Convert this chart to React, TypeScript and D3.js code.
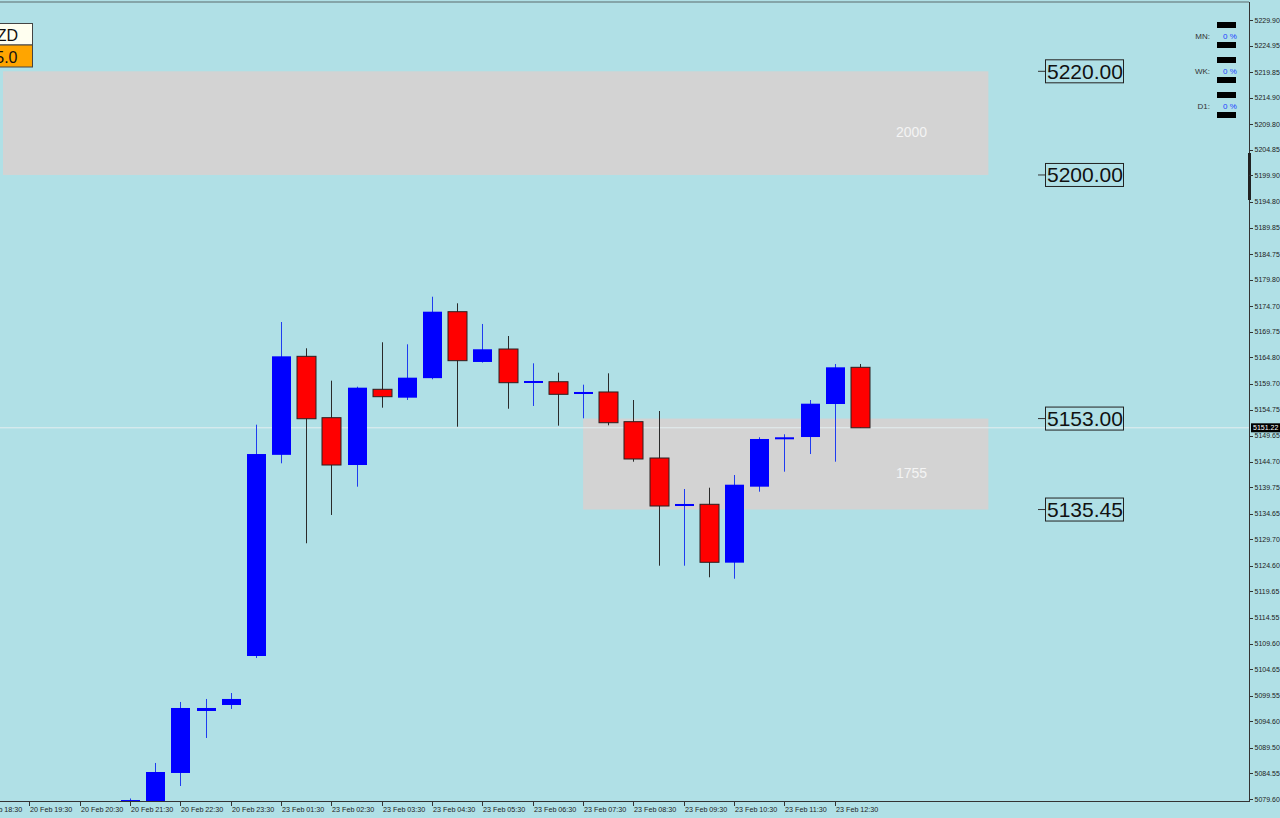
import React from "react";
import * as d3 from "d3";

// ---- Data ----
const opens = [5079.0, 5078.0, 5084.62, 5096.58, 5097.74, 5107.19, 5146.0, 5165.01, 5153.17, 5144.04, 5158.65, 5157.03, 5160.8, 5173.62, 5163.92, 5166.42, 5159.92, 5160.11, 5157.74, 5158.13, 5152.4, 5145.39, 5136.13, 5136.46, 5125.2, 5139.86, 5149.0, 5149.44, 5155.81, 5162.89];
const highs = [5079.7, 5086.55, 5098.32, 5098.9, 5100.05, 5151.82, 5171.63, 5166.56, 5160.31, 5159.15, 5167.72, 5167.33, 5176.51, 5175.24, 5171.25, 5168.93, 5163.66, 5161.85, 5159.54, 5161.73, 5156.58, 5154.46, 5139.41, 5139.66, 5142.11, 5149.39, 5149.97, 5156.58, 5163.53, 5163.53];
const lows = [5078.9, 5077.5, 5082.11, 5091.37, 5096.97, 5106.8, 5144.37, 5128.94, 5134.4, 5139.86, 5155.1, 5156.58, 5160.58, 5151.43, 5163.8, 5154.9, 5155.43, 5151.63, 5153.05, 5151.7, 5144.68, 5124.61, 5124.61, 5122.38, 5122.1, 5138.89, 5142.75, 5146.16, 5144.68, 5151.22];
const closes = [5079.4, 5084.81, 5097.16, 5097.16, 5098.9, 5146.16, 5165.01, 5152.97, 5144.04, 5158.96, 5157.22, 5160.89, 5173.62, 5164.17, 5166.37, 5159.92, 5160.25, 5157.68, 5158.13, 5152.2, 5145.2, 5136.13, 5136.52, 5125.27, 5140.24, 5149.06, 5149.39, 5155.87, 5162.89, 5151.22];

const priceTickLabels = ["5229.90", "5224.95", "5219.85", "5214.90", "5209.80", "5204.85", "5199.90", "5194.80", "5189.85", "5184.75", "5179.80", "5174.70", "5169.75", "5164.80", "5159.70", "5154.75", "5149.65", "5144.70", "5139.75", "5134.65", "5129.70", "5124.60", "5119.65", "5114.55", "5109.60", "5104.65", "5099.55", "5094.60", "5089.50", "5084.55", "5079.60"];

const timeTickIndex = [-6, -4, -2, 0, 2, 4, 6, 8, 10, 12, 14, 16, 18, 20, 22, 24, 26, 28];
const timeTickLabels = ["20 Feb 18:30", "20 Feb 19:30", "20 Feb 20:30", "20 Feb 21:30", "20 Feb 22:30", "20 Feb 23:30", "23 Feb 01:30", "23 Feb 02:30", "23 Feb 03:30", "23 Feb 04:30", "23 Feb 05:30", "23 Feb 06:30", "23 Feb 07:30", "23 Feb 08:30", "23 Feb 09:30", "23 Feb 10:30", "23 Feb 11:30", "23 Feb 12:30"];

const zoneTops = [5220.0, 5153.0];
const zoneBottoms = [5200.0, 5135.45];
const zoneStartIndex = [-5.05, 18];
const zoneEndIndex = [34.1, 34.1];
const zoneLabels = ["2000", "1755"];

const levelPrices = [5220.0, 5200.0, 5153.0, 5135.45];
const levelLabels = ["5220.00", "5200.00", "5153.00", "5135.45"];

const currentPrice = 5151.22;
const currentLabel = "5151.22";

const tfLabels = ["MN:", "WK:", "D1:"];
const tfValues = ["0 %", "0 %", "0 %"];

// ---- Layout ----
const W = 1280;
const H = 818;
const plotRight = 1249;
const plotBottom = 801;
const BG = "#b0e0e6";
const FONT = "'Liberation Sans', Arial, sans-serif";

export default function App() {
  const x = d3.scaleLinear().domain([0, 29]).range([130, 860]);
  const y = d3.scaleLinear().domain([5079.6, 5229.9]).range([799, 20]);
  const bodyW = 19;

  const priceTicks = priceTickLabels.map((l) => +l);

  return (
    <svg
      width={W}
      height={H}
      style={{ position: "absolute", left: 0, top: 0, display: "block", background: BG }}
    >
      <defs>
        <clipPath id="plotClip">
          <rect x={0} y={3} width={plotRight} height={plotBottom - 3} />
        </clipPath>
      </defs>
      <rect x={0} y={0} width={W} height={H} fill={BG} />

      {/* zones */}
      <g clipPath="url(#plotClip)">
        {zoneTops.map((t, i) => (
          <g key={"z" + i}>
            <rect
              x={Math.max(3, x(zoneStartIndex[i]))}
              y={y(t)}
              width={x(zoneEndIndex[i]) - Math.max(3, x(zoneStartIndex[i]))}
              height={y(zoneBottoms[i]) - y(t)}
              fill="#d3d3d3"
            />
            <text
              x={896}
              y={(y(t) + y(zoneBottoms[i])) / 2 + 14}
              fill="#f4f4f4"
              fontFamily={FONT}
              fontSize={14}
            >
              {zoneLabels[i]}
            </text>
          </g>
        ))}

        {/* current price line */}
        <line x1={0} x2={plotRight} y1={y(currentPrice)} y2={y(currentPrice)} stroke="#e4eef0" strokeWidth={1} />

        {/* candles */}
        {opens.map((o, i) => {
          const c = closes[i];
          const up = c >= o;
          const cx = Math.round(x(i)) + 0.5;
          const top = y(Math.max(o, c));
          const bot = y(Math.min(o, c));
          const h = Math.max(2, bot - top);
          return (
            <g key={"c" + i}>
              <line
                x1={cx}
                x2={cx}
                y1={y(highs[i])}
                y2={y(lows[i])}
                stroke={up ? "#1f3cf0" : "#2a2a2a"}
                strokeWidth={1}
              />
              <rect
                x={cx - bodyW / 2}
                y={top}
                width={bodyW}
                height={h}
                fill={up ? "#0000ff" : "#ff0000"}
                stroke={up ? "#0000ff" : "#2a2020"}
                strokeWidth={up ? 0 : 1}
              />
            </g>
          );
        })}
      </g>

      {/* top border */}
      <line x1={0} x2={plotRight} y1={2} y2={2} stroke="#5a6a6c" strokeWidth={1} />

      {/* level labels */}
      {levelPrices.map((p, i) => {
        const yy = y(p);
        return (
          <g key={"l" + i}>
            <line x1={1038} x2={1046} y1={yy} y2={yy} stroke="#333" strokeWidth={1} />
            <rect x={1045.5} y={yy - 11.5} width={78} height={23} fill="none" stroke="#222" strokeWidth={1} />
            <text x={1047} y={yy + 7.5} fontFamily={FONT} fontSize={21} fill="#111">
              {levelLabels[i]}
            </text>
          </g>
        );
      })}

      {/* right axis */}
      <line x1={plotRight + 0.5} x2={plotRight + 0.5} y1={2} y2={plotBottom} stroke="#333" strokeWidth={1} />
      <rect x={1248} y={153} width={3} height={47} fill="#222" />
      {priceTicks.map((p, i) => (
        <g key={"pt" + i}>
          <line x1={plotRight} x2={plotRight + 4} y1={Math.round(y(p)) + 0.5} y2={Math.round(y(p)) + 0.5} stroke="#333" />
          <text x={1254.5} y={y(p) + 2.5} fontFamily={FONT} fontSize={7} fill="#222">
            {priceTickLabels[i]}
          </text>
        </g>
      ))}
      <rect x={1251} y={y(currentPrice) - 4.5} width={29} height={9} fill="#000" />
      <text x={1253} y={y(currentPrice) + 2.5} fontFamily={FONT} fontSize={7} fill="#fff">
        {currentLabel}
      </text>

      {/* bottom axis */}
      <line x1={0} x2={plotRight + 1} y1={plotBottom + 0.5} y2={plotBottom + 0.5} stroke="#333" strokeWidth={1} />
      {timeTickIndex.map((ti, i) => {
        const tx = Math.round(x(ti)) + 0.5;
        return (
          <g key={"tt" + i}>
            <line x1={tx} x2={tx} y1={plotBottom} y2={plotBottom + 5} stroke="#333" />
            <text x={tx + 0.5} y={811.5} fontFamily={FONT} fontSize={7.2} fill="#222">
              {timeTickLabels[i]}
            </text>
          </g>
        );
      })}

      {/* timeframe panel */}
      {tfLabels.map((l, i) => {
        const cy = 36 + i * 35;
        return (
          <g key={"tf" + i}>
            <rect x={1217} y={cy - 14} width={19} height={6} fill="#000" />
            <rect x={1217} y={cy + 6} width={19} height={6} fill="#000" />
            <text x={1210} y={cy + 3} textAnchor="end" fontFamily={FONT} fontSize={8} fill="#333">
              {l}
            </text>
            <text x={1223} y={cy + 3} fontFamily={FONT} fontSize={8} fill="#2040ff">
              {tfValues[i]}
            </text>
          </g>
        );
      })}

      {/* symbol boxes top-left */}
      <rect x={-5} y={23.5} width={37.5} height={21.5} fill="#fffff0" stroke="#444" strokeWidth={1} />
      <rect x={-5} y={45} width={37.5} height={22} fill="#ffa500" stroke="#444" strokeWidth={1} />
      <text x={18} y={41} textAnchor="end" fontFamily={FONT} fontSize={16} fill="#111">ZD</text>
      <text x={17.5} y={62.5} textAnchor="end" fontFamily={FONT} fontSize={16} fill="#111">5.0</text>
    </svg>
  );
}
